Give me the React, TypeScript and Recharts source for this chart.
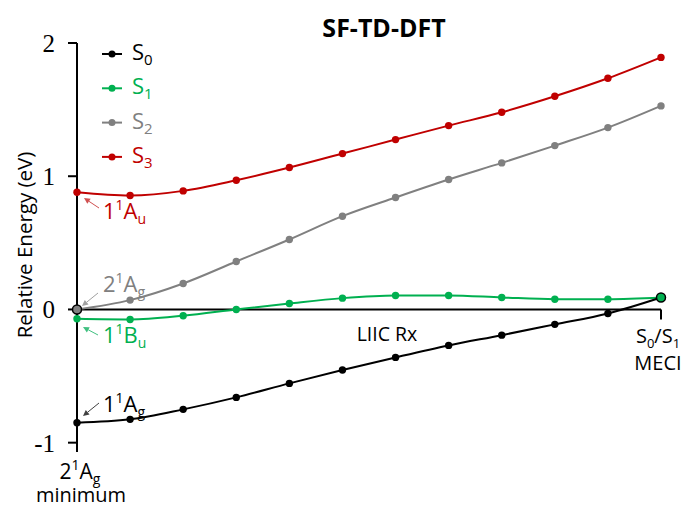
import React from 'react';
import { LineChart, Line, XAxis, YAxis, ReferenceLine, Legend } from 'recharts';

const xIndex = [0, 1, 2, 3, 4, 5, 6, 7, 8, 9, 10, 11];
const s0 = [-0.85, -0.825, -0.75, -0.66, -0.555, -0.455, -0.36, -0.27, -0.193, -0.112, -0.03, 0.09];
const s1 = [-0.07, -0.075, -0.047, 0.0, 0.045, 0.085, 0.105, 0.105, 0.09, 0.077, 0.077, 0.09];
const s2 = [0.0, 0.07, 0.195, 0.36, 0.525, 0.7, 0.84, 0.975, 1.1, 1.23, 1.365, 1.528];
const s3 = [0.88, 0.855, 0.89, 0.97, 1.065, 1.17, 1.275, 1.38, 1.48, 1.6, 1.735, 1.892];
const yTicks = [-1, 0, 1, 2];
const seriesNames = ['S0', 'S1', 'S2', 'S3'];
const seriesColors = ['#000000', '#00b050', '#808080', '#c00000'];

const data = xIndex.map((x, i) => ({ x, S0: s0[i], S1: s1[i], S2: s2[i], S3: s3[i] }));

const SANS = '"Open Sans", "Liberation Sans", sans-serif';
const SERIF = '"Liberation Serif", "DejaVu Serif", serif';

const makeDot = (color: string, specialIndex: number, specialFill: string) => (props: any) => {
  const { cx, cy, index } = props;
  if (cx == null || cy == null) return <g key={`d${index}`} />;
  if (index === specialIndex) {
    return <circle key={`d${index}`} cx={cx} cy={cy} r={4.5} fill={specialFill} stroke="#000" strokeWidth={1.5} />;
  }
  return <circle key={`d${index}`} cx={cx} cy={cy} r={3.7} fill={color} stroke="none" />;
};

const LegendContent = () => (
  <svg width={70} height={140} style={{ overflow: 'visible' }}>
    {seriesNames.map((n, i) => {
      const yc = 17 + i * 34.3;
      const c = seriesColors[i];
      return (
        <g key={n}>
          <line x1={2} x2={22} y1={yc} y2={yc} stroke={c} strokeWidth={2} />
          <circle cx={12} cy={yc} r={3.5} fill={c} />
          <text x={32} y={yc + 6} fill={c} fontFamily={SANS} fontSize={22}>
            <tspan>{n[0]}</tspan>
            <tspan fontSize={15} dy={5}>{n.slice(1)}</tspan>
          </text>
        </g>
      );
    })}
  </svg>
);

const Term = ({ x, y, color, a, b, letter, sub }: any) => (
  <text x={x} y={y} fill={color} fontFamily={SANS} fontSize={22}>
    <tspan>{a}</tspan>
    <tspan fontSize={14} dy={-9}>{b}</tspan>
    <tspan dy={9}>{letter}</tspan>
    <tspan fontSize={14} dy={5}>{sub}</tspan>
  </text>
);

const Arrow = ({ x1, y1, x2, y2, color }: any) => {
  const ang = Math.atan2(y2 - y1, x2 - x1);
  const L = 6, W = 3;
  const bx = x2 - L * Math.cos(ang), by = y2 - L * Math.sin(ang);
  const px = -Math.sin(ang) * W, py = Math.cos(ang) * W;
  return (
    <g>
      <line x1={x1} y1={y1} x2={bx} y2={by} stroke={color} strokeWidth={1} />
      <polygon points={`${x2},${y2} ${bx + px},${by + py} ${bx - px},${by - py}`} fill={color} />
    </g>
  );
};

export default function App() {
  return (
    <div style={{ position: 'absolute', left: 0, top: 0, width: 687, height: 508, background: '#fff' }}>
      <LineChart width={687} height={508} data={data} margin={{ top: 43, right: 26, bottom: 56, left: 0 }}>
        <XAxis dataKey="x" type="number" domain={[0, 11]} hide />
        <YAxis
          type="number"
          domain={[-1.07, 2]}
          ticks={yTicks}
          width={77}
          axisLine={{ stroke: '#000', strokeWidth: 2 }}
          tickLine={{ stroke: '#000', strokeWidth: 2 }}
          tickSize={9}
          tickMargin={13}
          tick={{ fill: '#000', fontFamily: SERIF, fontSize: 25 }}
        />
        <ReferenceLine y={0} stroke="#000" strokeWidth={2} />
        <ReferenceLine segment={[{ x: 11, y: 0 }, { x: 11, y: -0.075 }]} stroke="#000" strokeWidth={2} />
        <Legend
          layout="vertical"
          align="center"
          verticalAlign="middle"
          wrapperStyle={{ left: 100, top: 37, width: 70, height: 140 }}
          content={<LegendContent />}
        />
        <Line type="monotone" dataKey="S3" stroke={seriesColors[3]} strokeWidth={2} dot={makeDot(seriesColors[3], -1, '')} isAnimationActive={false} />
        <Line type="monotone" dataKey="S2" stroke={seriesColors[2]} strokeWidth={2} dot={makeDot(seriesColors[2], 0, '#808080')} isAnimationActive={false} />
        <Line type="monotone" dataKey="S1" stroke={seriesColors[1]} strokeWidth={2} dot={makeDot(seriesColors[1], -1, '')} isAnimationActive={false} />
        <Line type="monotone" dataKey="S0" stroke={seriesColors[0]} strokeWidth={2} dot={makeDot(seriesColors[0], 11, '#00b050')} isAnimationActive={false} />
      </LineChart>
      <svg width={687} height={508} style={{ position: 'absolute', left: 0, top: 0, pointerEvents: 'none' }}>
        <text x={384} y={37} textAnchor="middle" fontFamily={SANS} fontWeight="bold" fontSize={25} fill="#000">SF-TD-DFT</text>
        <text transform="rotate(-90 24 245)" x={24} y={245} textAnchor="middle" dominantBaseline="central" fontFamily={SANS} fontSize={20.5} fill="#000">Relative Energy (eV)</text>
        <text x={387} y={341} textAnchor="middle" fontFamily={SANS} fontSize={19.5} fill="#000">LIIC Rx</text>
        <text x={658} y={343} textAnchor="middle" fontFamily={SANS} fontSize={20} fill="#000">
          <tspan>S</tspan><tspan fontSize={13} dy={5}>0</tspan><tspan dy={-5}>/S</tspan><tspan fontSize={13} dy={5}>1</tspan>
        </text>
        <text x={658} y={370} textAnchor="middle" fontFamily={SANS} fontSize={20} fill="#000">MECI</text>
        <text x={80} y={479} textAnchor="middle" fontFamily={SANS} fontSize={21} fill="#000">
          <tspan>2</tspan><tspan fontSize={14} dy={-9}>1</tspan><tspan dy={9}>A</tspan><tspan fontSize={14} dy={5}>g</tspan>
        </text>
        <text x={81} y={502} textAnchor="middle" fontFamily={SANS} fontSize={20} fill="#000">minimum</text>
        <Term x={103} y={219} color="#c00000" a="1" b="1" letter="A" sub="u" />
        <Arrow x1={99} y1={208} x2={84} y2={198} color="#d05050" />
        <Term x={103} y={292} color="#808080" a="2" b="1" letter="A" sub="g" />
        <Arrow x1={98} y1={293} x2={82} y2={306} color="#a0a0a0" />
        <Term x={103} y={343} color="#00b050" a="1" b="1" letter="B" sub="u" />
        <Arrow x1={98} y1={335} x2={83} y2={327} color="#40c080" />
        <Term x={103} y={412} color="#000000" a="1" b="1" letter="A" sub="g" />
        <Arrow x1={99} y1={403} x2={83} y2={416} color="#404040" />
      </svg>
    </div>
  );
}
